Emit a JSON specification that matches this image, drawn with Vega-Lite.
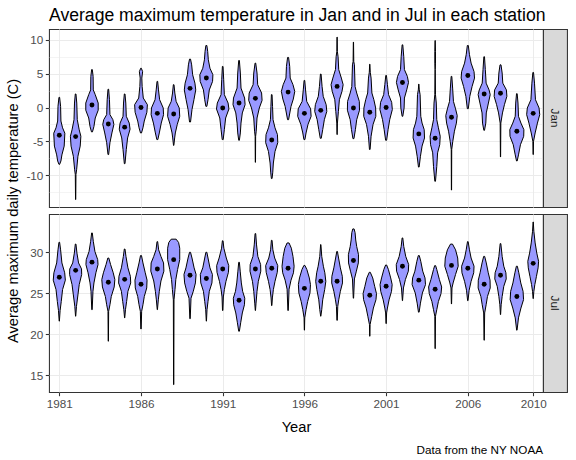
{
"$schema": "https://vega.github.io/schema/vega-lite/v6.json",
"padding": {"left": 5, "top": 6, "right": 7, "bottom": 5},
"background": "white",
"datasets": {
"v": [
{"m":"Jan","yr":1981,"t":1.5,"lo":1980.98,"hi":1981.02},{"m":"Jan","yr":1981,"t":0.17,"lo":1980.92,"hi":1981.08},{"m":"Jan","yr":1981,"t":-2.0,"lo":1980.9,"hi":1981.1},{"m":"Jan","yr":1981,"t":-3.0,"lo":1980.8,"hi":1981.2},{"m":"Jan","yr":1981,"t":-3.8,"lo":1980.66,"hi":1981.34},{"m":"Jan","yr":1981,"t":-5.7,"lo":1980.7,"hi":1981.3},{"m":"Jan","yr":1981,"t":-7.0,"lo":1980.84,"hi":1981.16},{"m":"Jan","yr":1981,"t":-7.9,"lo":1980.9,"hi":1981.1},{"m":"Jan","yr":1981,"t":-8.4,"lo":1980.98,"hi":1981.02},
{"m":"Jan","yr":1982,"t":2.0,"lo":1981.98,"hi":1982.02},{"m":"Jan","yr":1982,"t":0.66,"lo":1981.93,"hi":1982.07},{"m":"Jan","yr":1982,"t":-1.8,"lo":1981.9,"hi":1982.1},{"m":"Jan","yr":1982,"t":-3.3,"lo":1981.78,"hi":1982.22},{"m":"Jan","yr":1982,"t":-4.25,"lo":1981.68,"hi":1982.32},{"m":"Jan","yr":1982,"t":-5.7,"lo":1981.72,"hi":1982.28},{"m":"Jan","yr":1982,"t":-7.2,"lo":1981.86,"hi":1982.14},{"m":"Jan","yr":1982,"t":-9.2,"lo":1981.94,"hi":1982.06},{"m":"Jan","yr":1982,"t":-9.9,"lo":1981.98,"hi":1982.02},{"m":"Jan","yr":1982,"t":-13.6,"lo":1981.994,"hi":1982.006},
{"m":"Jan","yr":1983,"t":5.6,"lo":1982.98,"hi":1983.02},{"m":"Jan","yr":1983,"t":4.6,"lo":1982.93,"hi":1983.07},{"m":"Jan","yr":1983,"t":2.6,"lo":1982.92,"hi":1983.08},{"m":"Jan","yr":1983,"t":1.9,"lo":1982.8,"hi":1983.2},{"m":"Jan","yr":1983,"t":0.66,"lo":1982.62,"hi":1983.38},{"m":"Jan","yr":1983,"t":-0.4,"lo":1982.62,"hi":1983.38},{"m":"Jan","yr":1983,"t":-1.55,"lo":1982.8,"hi":1983.2},{"m":"Jan","yr":1983,"t":-2.8,"lo":1982.88,"hi":1983.12},{"m":"Jan","yr":1983,"t":-3.6,"lo":1982.97,"hi":1983.03},
{"m":"Jan","yr":1984,"t":2.7,"lo":1983.98,"hi":1984.02},{"m":"Jan","yr":1984,"t":1.15,"lo":1983.93,"hi":1984.07},{"m":"Jan","yr":1984,"t":-1.05,"lo":1983.9,"hi":1984.1},{"m":"Jan","yr":1984,"t":-1.8,"lo":1983.72,"hi":1984.28},{"m":"Jan","yr":1984,"t":-2.5,"lo":1983.66,"hi":1984.34},{"m":"Jan","yr":1984,"t":-3.76,"lo":1983.78,"hi":1984.22},{"m":"Jan","yr":1984,"t":-5.2,"lo":1983.9,"hi":1984.1},{"m":"Jan","yr":1984,"t":-6.95,"lo":1983.98,"hi":1984.02},
{"m":"Jan","yr":1985,"t":2.0,"lo":1984.98,"hi":1985.02},{"m":"Jan","yr":1985,"t":0.66,"lo":1984.93,"hi":1985.07},{"m":"Jan","yr":1985,"t":-1.3,"lo":1984.9,"hi":1985.1},{"m":"Jan","yr":1985,"t":-2.3,"lo":1984.72,"hi":1985.28},{"m":"Jan","yr":1985,"t":-3.2,"lo":1984.67,"hi":1985.33},{"m":"Jan","yr":1985,"t":-4.5,"lo":1984.82,"hi":1985.18},{"m":"Jan","yr":1985,"t":-6.2,"lo":1984.9,"hi":1985.1},{"m":"Jan","yr":1985,"t":-8.3,"lo":1984.98,"hi":1985.02},
{"m":"Jan","yr":1986,"t":5.8,"lo":1985.98,"hi":1986.02},{"m":"Jan","yr":1986,"t":5.3,"lo":1985.9,"hi":1986.1},{"m":"Jan","yr":1986,"t":4.35,"lo":1985.95,"hi":1986.05},{"m":"Jan","yr":1986,"t":3.1,"lo":1985.93,"hi":1986.07},{"m":"Jan","yr":1986,"t":1.4,"lo":1985.86,"hi":1986.14},{"m":"Jan","yr":1986,"t":0.42,"lo":1985.61,"hi":1986.39},{"m":"Jan","yr":1986,"t":-0.7,"lo":1985.64,"hi":1986.36},{"m":"Jan","yr":1986,"t":-2.0,"lo":1985.8,"hi":1986.2},{"m":"Jan","yr":1986,"t":-3.0,"lo":1985.88,"hi":1986.12},{"m":"Jan","yr":1986,"t":-3.76,"lo":1985.97,"hi":1986.03},
{"m":"Jan","yr":1987,"t":3.86,"lo":1986.98,"hi":1987.02},{"m":"Jan","yr":1987,"t":2.6,"lo":1986.93,"hi":1987.07},{"m":"Jan","yr":1987,"t":1.15,"lo":1986.86,"hi":1987.14},{"m":"Jan","yr":1987,"t":-0.07,"lo":1986.64,"hi":1987.36},{"m":"Jan","yr":1987,"t":-1.06,"lo":1986.62,"hi":1987.38},{"m":"Jan","yr":1987,"t":-2.3,"lo":1986.76,"hi":1987.24},{"m":"Jan","yr":1987,"t":-3.76,"lo":1986.88,"hi":1987.12},{"m":"Jan","yr":1987,"t":-4.74,"lo":1986.97,"hi":1987.03},
{"m":"Jan","yr":1988,"t":3.37,"lo":1987.98,"hi":1988.02},{"m":"Jan","yr":1988,"t":2.14,"lo":1987.93,"hi":1988.07},{"m":"Jan","yr":1988,"t":0.9,"lo":1987.85,"hi":1988.15},{"m":"Jan","yr":1988,"t":-0.07,"lo":1987.66,"hi":1988.34},{"m":"Jan","yr":1988,"t":-1.3,"lo":1987.63,"hi":1988.37},{"m":"Jan","yr":1988,"t":-2.5,"lo":1987.78,"hi":1988.22},{"m":"Jan","yr":1988,"t":-3.76,"lo":1987.9,"hi":1988.1},{"m":"Jan","yr":1988,"t":-4.5,"lo":1987.94,"hi":1988.06},{"m":"Jan","yr":1988,"t":-5.6,"lo":1987.99,"hi":1988.01},
{"m":"Jan","yr":1989,"t":7.15,"lo":1988.97,"hi":1989.03},{"m":"Jan","yr":1989,"t":6.3,"lo":1988.9,"hi":1989.1},{"m":"Jan","yr":1989,"t":4.84,"lo":1988.84,"hi":1989.16},{"m":"Jan","yr":1989,"t":3.6,"lo":1988.7,"hi":1989.3},{"m":"Jan","yr":1989,"t":2.6,"lo":1988.65,"hi":1989.35},{"m":"Jan","yr":1989,"t":1.15,"lo":1988.76,"hi":1989.24},{"m":"Jan","yr":1989,"t":-0.3,"lo":1988.88,"hi":1989.12},{"m":"Jan","yr":1989,"t":-2.14,"lo":1988.97,"hi":1989.03},
{"m":"Jan","yr":1990,"t":9.16,"lo":1989.97,"hi":1990.03},{"m":"Jan","yr":1990,"t":8.3,"lo":1989.92,"hi":1990.08},{"m":"Jan","yr":1990,"t":7.05,"lo":1989.88,"hi":1990.12},{"m":"Jan","yr":1990,"t":5.8,"lo":1989.78,"hi":1990.22},{"m":"Jan","yr":1990,"t":4.84,"lo":1989.6,"hi":1990.4},{"m":"Jan","yr":1990,"t":3.86,"lo":1989.62,"hi":1990.38},{"m":"Jan","yr":1990,"t":2.6,"lo":1989.82,"hi":1990.18},{"m":"Jan","yr":1990,"t":1.15,"lo":1989.9,"hi":1990.1},{"m":"Jan","yr":1990,"t":0.17,"lo":1989.97,"hi":1990.03},
{"m":"Jan","yr":1991,"t":6.07,"lo":1990.98,"hi":1991.02},{"m":"Jan","yr":1991,"t":4.1,"lo":1990.94,"hi":1991.06},{"m":"Jan","yr":1991,"t":1.9,"lo":1990.9,"hi":1991.1},{"m":"Jan","yr":1991,"t":0.66,"lo":1990.67,"hi":1991.33},{"m":"Jan","yr":1991,"t":-0.22,"lo":1990.62,"hi":1991.38},{"m":"Jan","yr":1991,"t":-1.55,"lo":1990.82,"hi":1991.18},{"m":"Jan","yr":1991,"t":-3.27,"lo":1990.9,"hi":1991.1},{"m":"Jan","yr":1991,"t":-4.74,"lo":1990.97,"hi":1991.03},
{"m":"Jan","yr":1992,"t":6.95,"lo":1991.98,"hi":1992.02},{"m":"Jan","yr":1992,"t":5.1,"lo":1991.92,"hi":1992.08},{"m":"Jan","yr":1992,"t":2.87,"lo":1991.88,"hi":1992.12},{"m":"Jan","yr":1992,"t":1.4,"lo":1991.66,"hi":1992.34},{"m":"Jan","yr":1992,"t":0.42,"lo":1991.63,"hi":1992.37},{"m":"Jan","yr":1992,"t":-0.8,"lo":1991.8,"hi":1992.2},{"m":"Jan","yr":1992,"t":-2.3,"lo":1991.88,"hi":1992.12},{"m":"Jan","yr":1992,"t":-3.76,"lo":1991.92,"hi":1992.08},{"m":"Jan","yr":1992,"t":-4.84,"lo":1991.98,"hi":1992.02},
{"m":"Jan","yr":1993,"t":6.56,"lo":1992.98,"hi":1993.02},{"m":"Jan","yr":1993,"t":5.1,"lo":1992.9,"hi":1993.1},{"m":"Jan","yr":1993,"t":3.37,"lo":1992.86,"hi":1993.14},{"m":"Jan","yr":1993,"t":2.14,"lo":1992.62,"hi":1993.38},{"m":"Jan","yr":1993,"t":1.06,"lo":1992.59,"hi":1993.41},{"m":"Jan","yr":1993,"t":-0.07,"lo":1992.76,"hi":1993.24},{"m":"Jan","yr":1993,"t":-1.55,"lo":1992.9,"hi":1993.1},{"m":"Jan","yr":1993,"t":-3.5,"lo":1992.95,"hi":1993.05},{"m":"Jan","yr":1993,"t":-4.25,"lo":1992.985,"hi":1993.015},{"m":"Jan","yr":1993,"t":-8.1,"lo":1992.994,"hi":1993.006},
{"m":"Jan","yr":1994,"t":1.9,"lo":1993.98,"hi":1994.02},{"m":"Jan","yr":1994,"t":0.17,"lo":1993.95,"hi":1994.05},{"m":"Jan","yr":1994,"t":-1.8,"lo":1993.92,"hi":1994.08},{"m":"Jan","yr":1994,"t":-3.0,"lo":1993.8,"hi":1994.2},{"m":"Jan","yr":1994,"t":-4.0,"lo":1993.65,"hi":1994.35},{"m":"Jan","yr":1994,"t":-5.2,"lo":1993.63,"hi":1994.37},{"m":"Jan","yr":1994,"t":-6.5,"lo":1993.8,"hi":1994.2},{"m":"Jan","yr":1994,"t":-8.2,"lo":1993.9,"hi":1994.1},{"m":"Jan","yr":1994,"t":-9.66,"lo":1993.94,"hi":1994.06},{"m":"Jan","yr":1994,"t":-10.5,"lo":1993.98,"hi":1994.02},
{"m":"Jan","yr":1995,"t":7.4,"lo":1994.97,"hi":1995.03},{"m":"Jan","yr":1995,"t":6.07,"lo":1994.9,"hi":1995.1},{"m":"Jan","yr":1995,"t":4.35,"lo":1994.87,"hi":1995.13},{"m":"Jan","yr":1995,"t":3.37,"lo":1994.7,"hi":1995.3},{"m":"Jan","yr":1995,"t":2.38,"lo":1994.59,"hi":1995.41},{"m":"Jan","yr":1995,"t":1.25,"lo":1994.68,"hi":1995.32},{"m":"Jan","yr":1995,"t":0.17,"lo":1994.82,"hi":1995.18},{"m":"Jan","yr":1995,"t":-1.8,"lo":1994.97,"hi":1995.03},
{"m":"Jan","yr":1996,"t":4.0,"lo":1995.98,"hi":1996.02},{"m":"Jan","yr":1996,"t":2.6,"lo":1995.93,"hi":1996.07},{"m":"Jan","yr":1996,"t":0.9,"lo":1995.86,"hi":1996.14},{"m":"Jan","yr":1996,"t":-0.2,"lo":1995.62,"hi":1996.38},{"m":"Jan","yr":1996,"t":-1.3,"lo":1995.59,"hi":1996.41},{"m":"Jan","yr":1996,"t":-2.5,"lo":1995.78,"hi":1996.22},{"m":"Jan","yr":1996,"t":-3.76,"lo":1995.9,"hi":1996.1},{"m":"Jan","yr":1996,"t":-4.74,"lo":1995.97,"hi":1996.03},
{"m":"Jan","yr":1997,"t":4.94,"lo":1996.98,"hi":1997.02},{"m":"Jan","yr":1997,"t":3.12,"lo":1996.92,"hi":1997.08},{"m":"Jan","yr":1997,"t":1.65,"lo":1996.85,"hi":1997.15},{"m":"Jan","yr":1997,"t":0.42,"lo":1996.67,"hi":1997.33},{"m":"Jan","yr":1997,"t":-0.57,"lo":1996.63,"hi":1997.37},{"m":"Jan","yr":1997,"t":-1.8,"lo":1996.78,"hi":1997.22},{"m":"Jan","yr":1997,"t":-3.27,"lo":1996.88,"hi":1997.12},{"m":"Jan","yr":1997,"t":-4.55,"lo":1996.97,"hi":1997.03},
{"m":"Jan","yr":1998,"t":10.4,"lo":1997.994,"hi":1998.006},{"m":"Jan","yr":1998,"t":8.28,"lo":1997.985,"hi":1998.015},{"m":"Jan","yr":1998,"t":7.5,"lo":1997.94,"hi":1998.06},{"m":"Jan","yr":1998,"t":5.6,"lo":1997.9,"hi":1998.1},{"m":"Jan","yr":1998,"t":4.35,"lo":1997.74,"hi":1998.26},{"m":"Jan","yr":1998,"t":3.37,"lo":1997.63,"hi":1998.37},{"m":"Jan","yr":1998,"t":2.4,"lo":1997.7,"hi":1998.3},{"m":"Jan","yr":1998,"t":1.15,"lo":1997.86,"hi":1998.14},{"m":"Jan","yr":1998,"t":-0.57,"lo":1997.92,"hi":1998.08},{"m":"Jan","yr":1998,"t":-2.3,"lo":1997.98,"hi":1998.02},{"m":"Jan","yr":1998,"t":-4.0,"lo":1997.994,"hi":1998.006},
{"m":"Jan","yr":1999,"t":9.66,"lo":1998.994,"hi":1999.006},{"m":"Jan","yr":1999,"t":6.8,"lo":1998.98,"hi":1999.02},{"m":"Jan","yr":1999,"t":6.3,"lo":1998.94,"hi":1999.06},{"m":"Jan","yr":1999,"t":3.1,"lo":1998.9,"hi":1999.1},{"m":"Jan","yr":1999,"t":2.14,"lo":1998.8,"hi":1999.2},{"m":"Jan","yr":1999,"t":0.9,"lo":1998.64,"hi":1999.36},{"m":"Jan","yr":1999,"t":-0.4,"lo":1998.63,"hi":1999.37},{"m":"Jan","yr":1999,"t":-1.8,"lo":1998.8,"hi":1999.2},{"m":"Jan","yr":1999,"t":-3.27,"lo":1998.88,"hi":1999.12},{"m":"Jan","yr":1999,"t":-4.6,"lo":1998.97,"hi":1999.03},
{"m":"Jan","yr":2000,"t":6.4,"lo":1999.994,"hi":2000.006},{"m":"Jan","yr":2000,"t":5.2,"lo":1999.97,"hi":2000.03},{"m":"Jan","yr":2000,"t":4.35,"lo":1999.92,"hi":2000.08},{"m":"Jan","yr":2000,"t":2.14,"lo":1999.87,"hi":2000.13},{"m":"Jan","yr":2000,"t":1.15,"lo":1999.75,"hi":2000.25},{"m":"Jan","yr":2000,"t":-0.07,"lo":1999.64,"hi":2000.36},{"m":"Jan","yr":2000,"t":-1.3,"lo":1999.63,"hi":2000.37},{"m":"Jan","yr":2000,"t":-2.5,"lo":1999.8,"hi":2000.2},{"m":"Jan","yr":2000,"t":-4.25,"lo":1999.92,"hi":2000.08},{"m":"Jan","yr":2000,"t":-6.2,"lo":1999.98,"hi":2000.02},
{"m":"Jan","yr":2001,"t":4.74,"lo":2000.98,"hi":2001.02},{"m":"Jan","yr":2001,"t":3.37,"lo":2000.92,"hi":2001.08},{"m":"Jan","yr":2001,"t":1.9,"lo":2000.85,"hi":2001.15},{"m":"Jan","yr":2001,"t":0.76,"lo":2000.66,"hi":2001.34},{"m":"Jan","yr":2001,"t":-0.3,"lo":2000.62,"hi":2001.38},{"m":"Jan","yr":2001,"t":-1.8,"lo":2000.78,"hi":2001.22},{"m":"Jan","yr":2001,"t":-3.27,"lo":2000.88,"hi":2001.12},{"m":"Jan","yr":2001,"t":-4.84,"lo":2000.97,"hi":2001.03},
{"m":"Jan","yr":2002,"t":9.26,"lo":2001.98,"hi":2002.02},{"m":"Jan","yr":2002,"t":7.5,"lo":2001.92,"hi":2002.08},{"m":"Jan","yr":2002,"t":5.6,"lo":2001.88,"hi":2002.12},{"m":"Jan","yr":2002,"t":4.6,"lo":2001.7,"hi":2002.3},{"m":"Jan","yr":2002,"t":3.7,"lo":2001.63,"hi":2002.37},{"m":"Jan","yr":2002,"t":2.6,"lo":2001.74,"hi":2002.26},{"m":"Jan","yr":2002,"t":1.4,"lo":2001.88,"hi":2002.12},{"m":"Jan","yr":2002,"t":-0.07,"lo":2001.9,"hi":2002.1},{"m":"Jan","yr":2002,"t":-1.3,"lo":2001.98,"hi":2002.02},
{"m":"Jan","yr":2003,"t":3.46,"lo":2002.994,"hi":2003.006},{"m":"Jan","yr":2003,"t":2.6,"lo":2002.97,"hi":2003.03},{"m":"Jan","yr":2003,"t":1.9,"lo":2002.92,"hi":2003.08},{"m":"Jan","yr":2003,"t":-1.3,"lo":2002.88,"hi":2003.12},{"m":"Jan","yr":2003,"t":-2.3,"lo":2002.8,"hi":2003.2},{"m":"Jan","yr":2003,"t":-3.27,"lo":2002.67,"hi":2003.33},{"m":"Jan","yr":2003,"t":-4.5,"lo":2002.65,"hi":2003.35},{"m":"Jan","yr":2003,"t":-5.7,"lo":2002.8,"hi":2003.2},{"m":"Jan","yr":2003,"t":-7.2,"lo":2002.9,"hi":2003.1},{"m":"Jan","yr":2003,"t":-8.8,"lo":2002.98,"hi":2003.02},
{"m":"Jan","yr":2004,"t":9.9,"lo":2003.994,"hi":2004.006},{"m":"Jan","yr":2004,"t":8.3,"lo":2003.98,"hi":2004.02},{"m":"Jan","yr":2004,"t":6.56,"lo":2003.98,"hi":2004.02},{"m":"Jan","yr":2004,"t":5.6,"lo":2003.994,"hi":2004.006},{"m":"Jan","yr":2004,"t":1.9,"lo":2003.98,"hi":2004.02},{"m":"Jan","yr":2004,"t":0.66,"lo":2003.93,"hi":2004.07},{"m":"Jan","yr":2004,"t":-1.8,"lo":2003.9,"hi":2004.1},{"m":"Jan","yr":2004,"t":-3.0,"lo":2003.8,"hi":2004.2},{"m":"Jan","yr":2004,"t":-4.25,"lo":2003.69,"hi":2004.31},{"m":"Jan","yr":2004,"t":-5.5,"lo":2003.72,"hi":2004.28},{"m":"Jan","yr":2004,"t":-6.7,"lo":2003.85,"hi":2004.15},{"m":"Jan","yr":2004,"t":-8.7,"lo":2003.9,"hi":2004.1},{"m":"Jan","yr":2004,"t":-10.9,"lo":2003.98,"hi":2004.02},
{"m":"Jan","yr":2005,"t":4.6,"lo":2004.98,"hi":2005.02},{"m":"Jan","yr":2005,"t":2.87,"lo":2004.93,"hi":2005.07},{"m":"Jan","yr":2005,"t":0.9,"lo":2004.88,"hi":2005.12},{"m":"Jan","yr":2005,"t":-0.2,"lo":2004.75,"hi":2005.25},{"m":"Jan","yr":2005,"t":-1.2,"lo":2004.65,"hi":2005.35},{"m":"Jan","yr":2005,"t":-2.3,"lo":2004.7,"hi":2005.3},{"m":"Jan","yr":2005,"t":-3.5,"lo":2004.82,"hi":2005.18},{"m":"Jan","yr":2005,"t":-5.0,"lo":2004.92,"hi":2005.08},{"m":"Jan","yr":2005,"t":-6.2,"lo":2004.985,"hi":2005.015},{"m":"Jan","yr":2005,"t":-12.2,"lo":2004.994,"hi":2005.006},
{"m":"Jan","yr":2006,"t":9.16,"lo":2005.97,"hi":2006.03},{"m":"Jan","yr":2006,"t":7.8,"lo":2005.9,"hi":2006.1},{"m":"Jan","yr":2006,"t":6.56,"lo":2005.8,"hi":2006.2},{"m":"Jan","yr":2006,"t":5.3,"lo":2005.62,"hi":2006.38},{"m":"Jan","yr":2006,"t":4.35,"lo":2005.59,"hi":2006.41},{"m":"Jan","yr":2006,"t":3.1,"lo":2005.74,"hi":2006.26},{"m":"Jan","yr":2006,"t":1.65,"lo":2005.88,"hi":2006.12},{"m":"Jan","yr":2006,"t":-0.17,"lo":2005.97,"hi":2006.03},
{"m":"Jan","yr":2007,"t":7.5,"lo":2006.98,"hi":2007.02},{"m":"Jan","yr":2007,"t":5.6,"lo":2006.93,"hi":2007.07},{"m":"Jan","yr":2007,"t":3.6,"lo":2006.88,"hi":2007.12},{"m":"Jan","yr":2007,"t":2.6,"lo":2006.7,"hi":2007.3},{"m":"Jan","yr":2007,"t":1.9,"lo":2006.63,"hi":2007.37},{"m":"Jan","yr":2007,"t":0.66,"lo":2006.74,"hi":2007.26},{"m":"Jan","yr":2007,"t":-0.8,"lo":2006.87,"hi":2007.13},{"m":"Jan","yr":2007,"t":-2.3,"lo":2006.9,"hi":2007.1},{"m":"Jan","yr":2007,"t":-3.37,"lo":2006.98,"hi":2007.02},
{"m":"Jan","yr":2008,"t":6.3,"lo":2007.97,"hi":2008.03},{"m":"Jan","yr":2008,"t":5.1,"lo":2007.9,"hi":2008.1},{"m":"Jan","yr":2008,"t":3.6,"lo":2007.86,"hi":2008.14},{"m":"Jan","yr":2008,"t":2.6,"lo":2007.64,"hi":2008.36},{"m":"Jan","yr":2008,"t":1.65,"lo":2007.61,"hi":2008.39},{"m":"Jan","yr":2008,"t":0.42,"lo":2007.76,"hi":2008.24},{"m":"Jan","yr":2008,"t":-0.8,"lo":2007.88,"hi":2008.12},{"m":"Jan","yr":2008,"t":-2.3,"lo":2007.98,"hi":2008.02},{"m":"Jan","yr":2008,"t":-7.3,"lo":2007.994,"hi":2008.006},
{"m":"Jan","yr":2009,"t":2.04,"lo":2008.98,"hi":2009.02},{"m":"Jan","yr":2009,"t":0.66,"lo":2008.93,"hi":2009.07},{"m":"Jan","yr":2009,"t":-1.3,"lo":2008.9,"hi":2009.1},{"m":"Jan","yr":2009,"t":-2.3,"lo":2008.75,"hi":2009.25},{"m":"Jan","yr":2009,"t":-3.27,"lo":2008.57,"hi":2009.43},{"m":"Jan","yr":2009,"t":-4.25,"lo":2008.58,"hi":2009.42},{"m":"Jan","yr":2009,"t":-5.5,"lo":2008.78,"hi":2009.22},{"m":"Jan","yr":2009,"t":-7.0,"lo":2008.9,"hi":2009.1},{"m":"Jan","yr":2009,"t":-7.9,"lo":2008.98,"hi":2009.02},
{"m":"Jan","yr":2010,"t":5.18,"lo":2009.98,"hi":2010.02},{"m":"Jan","yr":2010,"t":3.6,"lo":2009.92,"hi":2010.08},{"m":"Jan","yr":2010,"t":1.15,"lo":2009.86,"hi":2010.14},{"m":"Jan","yr":2010,"t":-0.07,"lo":2009.64,"hi":2010.36},{"m":"Jan","yr":2010,"t":-1.06,"lo":2009.6,"hi":2010.4},{"m":"Jan","yr":2010,"t":-2.3,"lo":2009.74,"hi":2010.26},{"m":"Jan","yr":2010,"t":-3.76,"lo":2009.88,"hi":2010.12},{"m":"Jan","yr":2010,"t":-5.0,"lo":2009.98,"hi":2010.02},{"m":"Jan","yr":2010,"t":-6.95,"lo":2009.994,"hi":2010.006},
{"m":"Jul","yr":1981,"t":31.22,"lo":1980.98,"hi":1981.02},{"m":"Jul","yr":1981,"t":30.3,"lo":1980.92,"hi":1981.08},{"m":"Jul","yr":1981,"t":28.7,"lo":1980.84,"hi":1981.16},{"m":"Jul","yr":1981,"t":27.5,"lo":1980.67,"hi":1981.33},{"m":"Jul","yr":1981,"t":26.6,"lo":1980.63,"hi":1981.37},{"m":"Jul","yr":1981,"t":25.45,"lo":1980.8,"hi":1981.2},{"m":"Jul","yr":1981,"t":24.0,"lo":1980.88,"hi":1981.12},{"m":"Jul","yr":1981,"t":22.9,"lo":1980.95,"hi":1981.05},{"m":"Jul","yr":1981,"t":21.6,"lo":1980.994,"hi":1981.006},
{"m":"Jul","yr":1982,"t":31.0,"lo":1981.98,"hi":1982.02},{"m":"Jul","yr":1982,"t":29.9,"lo":1981.92,"hi":1982.08},{"m":"Jul","yr":1982,"t":28.7,"lo":1981.82,"hi":1982.18},{"m":"Jul","yr":1982,"t":27.97,"lo":1981.64,"hi":1982.36},{"m":"Jul","yr":1982,"t":27.3,"lo":1981.63,"hi":1982.37},{"m":"Jul","yr":1982,"t":26.06,"lo":1981.78,"hi":1982.22},{"m":"Jul","yr":1982,"t":24.8,"lo":1981.86,"hi":1982.14},{"m":"Jul","yr":1982,"t":23.4,"lo":1981.95,"hi":1982.05},{"m":"Jul","yr":1982,"t":22.2,"lo":1981.994,"hi":1982.006},
{"m":"Jul","yr":1983,"t":32.36,"lo":1982.98,"hi":1983.02},{"m":"Jul","yr":1983,"t":31.34,"lo":1982.92,"hi":1983.08},{"m":"Jul","yr":1983,"t":30.1,"lo":1982.82,"hi":1983.18},{"m":"Jul","yr":1983,"t":29.1,"lo":1982.65,"hi":1983.35},{"m":"Jul","yr":1983,"t":28.5,"lo":1982.63,"hi":1983.37},{"m":"Jul","yr":1983,"t":27.5,"lo":1982.76,"hi":1983.24},{"m":"Jul","yr":1983,"t":26.26,"lo":1982.88,"hi":1983.12},{"m":"Jul","yr":1983,"t":25.24,"lo":1982.94,"hi":1983.06},{"m":"Jul","yr":1983,"t":23.0,"lo":1982.988,"hi":1983.012},
{"m":"Jul","yr":1984,"t":29.3,"lo":1983.97,"hi":1984.03},{"m":"Jul","yr":1984,"t":28.5,"lo":1983.86,"hi":1984.14},{"m":"Jul","yr":1984,"t":27.5,"lo":1983.7,"hi":1984.3},{"m":"Jul","yr":1984,"t":26.67,"lo":1983.6,"hi":1984.4},{"m":"Jul","yr":1984,"t":25.77,"lo":1983.64,"hi":1984.36},{"m":"Jul","yr":1984,"t":24.6,"lo":1983.82,"hi":1984.18},{"m":"Jul","yr":1984,"t":23.6,"lo":1983.9,"hi":1984.1},{"m":"Jul","yr":1984,"t":22.8,"lo":1983.98,"hi":1984.02},{"m":"Jul","yr":1984,"t":19.15,"lo":1983.994,"hi":1984.006},
{"m":"Jul","yr":1985,"t":30.4,"lo":1984.98,"hi":1985.02},{"m":"Jul","yr":1985,"t":29.5,"lo":1984.92,"hi":1985.08},{"m":"Jul","yr":1985,"t":28.1,"lo":1984.8,"hi":1985.2},{"m":"Jul","yr":1985,"t":27.07,"lo":1984.65,"hi":1985.35},{"m":"Jul","yr":1985,"t":26.26,"lo":1984.63,"hi":1985.37},{"m":"Jul","yr":1985,"t":25.24,"lo":1984.8,"hi":1985.2},{"m":"Jul","yr":1985,"t":24.0,"lo":1984.88,"hi":1985.12},{"m":"Jul","yr":1985,"t":23.0,"lo":1984.95,"hi":1985.05},{"m":"Jul","yr":1985,"t":22.0,"lo":1984.994,"hi":1985.006},
{"m":"Jul","yr":1986,"t":29.6,"lo":1985.97,"hi":1986.03},{"m":"Jul","yr":1986,"t":28.7,"lo":1985.88,"hi":1986.12},{"m":"Jul","yr":1986,"t":27.5,"lo":1985.74,"hi":1986.26},{"m":"Jul","yr":1986,"t":26.6,"lo":1985.63,"hi":1986.37},{"m":"Jul","yr":1986,"t":25.65,"lo":1985.65,"hi":1986.35},{"m":"Jul","yr":1986,"t":24.6,"lo":1985.8,"hi":1986.2},{"m":"Jul","yr":1986,"t":23.6,"lo":1985.88,"hi":1986.12},{"m":"Jul","yr":1986,"t":22.8,"lo":1985.96,"hi":1986.04},{"m":"Jul","yr":1986,"t":20.65,"lo":1985.988,"hi":1986.012},
{"m":"Jul","yr":1987,"t":31.3,"lo":1986.98,"hi":1987.02},{"m":"Jul","yr":1987,"t":30.3,"lo":1986.92,"hi":1987.08},{"m":"Jul","yr":1987,"t":29.5,"lo":1986.78,"hi":1987.22},{"m":"Jul","yr":1987,"t":28.7,"lo":1986.62,"hi":1987.38},{"m":"Jul","yr":1987,"t":27.7,"lo":1986.6,"hi":1987.4},{"m":"Jul","yr":1987,"t":26.5,"lo":1986.78,"hi":1987.22},{"m":"Jul","yr":1987,"t":25.24,"lo":1986.88,"hi":1987.12},{"m":"Jul","yr":1987,"t":24.2,"lo":1986.94,"hi":1987.06},{"m":"Jul","yr":1987,"t":23.0,"lo":1986.994,"hi":1987.006},
{"m":"Jul","yr":1988,"t":31.6,"lo":1987.85,"hi":1988.15},{"m":"Jul","yr":1988,"t":31.2,"lo":1987.7,"hi":1988.3},{"m":"Jul","yr":1988,"t":30.5,"lo":1987.63,"hi":1988.37},{"m":"Jul","yr":1988,"t":29.1,"lo":1987.63,"hi":1988.37},{"m":"Jul","yr":1988,"t":27.9,"lo":1987.76,"hi":1988.24},{"m":"Jul","yr":1988,"t":26.67,"lo":1987.87,"hi":1988.13},{"m":"Jul","yr":1988,"t":25.45,"lo":1987.92,"hi":1988.08},{"m":"Jul","yr":1988,"t":24.2,"lo":1987.98,"hi":1988.02},{"m":"Jul","yr":1988,"t":13.86,"lo":1987.994,"hi":1988.006},
{"m":"Jul","yr":1989,"t":30.0,"lo":1988.97,"hi":1989.03},{"m":"Jul","yr":1989,"t":29.3,"lo":1988.88,"hi":1989.12},{"m":"Jul","yr":1989,"t":28.1,"lo":1988.75,"hi":1989.25},{"m":"Jul","yr":1989,"t":27.3,"lo":1988.63,"hi":1989.37},{"m":"Jul","yr":1989,"t":26.26,"lo":1988.67,"hi":1989.33},{"m":"Jul","yr":1989,"t":25.24,"lo":1988.8,"hi":1989.2},{"m":"Jul","yr":1989,"t":24.4,"lo":1988.94,"hi":1989.06},{"m":"Jul","yr":1989,"t":21.9,"lo":1988.988,"hi":1989.012},
{"m":"Jul","yr":1990,"t":30.0,"lo":1989.97,"hi":1990.03},{"m":"Jul","yr":1990,"t":29.3,"lo":1989.9,"hi":1990.1},{"m":"Jul","yr":1990,"t":28.1,"lo":1989.78,"hi":1990.22},{"m":"Jul","yr":1990,"t":27.3,"lo":1989.63,"hi":1990.37},{"m":"Jul","yr":1990,"t":26.26,"lo":1989.66,"hi":1990.34},{"m":"Jul","yr":1990,"t":25.24,"lo":1989.82,"hi":1990.18},{"m":"Jul","yr":1990,"t":24.0,"lo":1989.9,"hi":1990.1},{"m":"Jul","yr":1990,"t":23.0,"lo":1989.96,"hi":1990.04},{"m":"Jul","yr":1990,"t":21.6,"lo":1989.994,"hi":1990.006},
{"m":"Jul","yr":1991,"t":31.4,"lo":1990.98,"hi":1991.02},{"m":"Jul","yr":1991,"t":30.5,"lo":1990.93,"hi":1991.07},{"m":"Jul","yr":1991,"t":29.3,"lo":1990.78,"hi":1991.22},{"m":"Jul","yr":1991,"t":28.37,"lo":1990.63,"hi":1991.37},{"m":"Jul","yr":1991,"t":27.56,"lo":1990.65,"hi":1991.35},{"m":"Jul","yr":1991,"t":26.46,"lo":1990.8,"hi":1991.2},{"m":"Jul","yr":1991,"t":25.45,"lo":1990.9,"hi":1991.1},{"m":"Jul","yr":1991,"t":24.55,"lo":1990.96,"hi":1991.04},{"m":"Jul","yr":1991,"t":22.9,"lo":1990.988,"hi":1991.012},
{"m":"Jul","yr":1992,"t":28.78,"lo":1991.98,"hi":1992.02},{"m":"Jul","yr":1992,"t":27.7,"lo":1991.93,"hi":1992.07},{"m":"Jul","yr":1992,"t":26.26,"lo":1991.86,"hi":1992.14},{"m":"Jul","yr":1992,"t":25.24,"lo":1991.78,"hi":1992.22},{"m":"Jul","yr":1992,"t":24.4,"lo":1991.65,"hi":1992.35},{"m":"Jul","yr":1992,"t":23.6,"lo":1991.67,"hi":1992.33},{"m":"Jul","yr":1992,"t":22.6,"lo":1991.8,"hi":1992.2},{"m":"Jul","yr":1992,"t":21.4,"lo":1991.9,"hi":1992.1},{"m":"Jul","yr":1992,"t":20.37,"lo":1991.98,"hi":1992.02},
{"m":"Jul","yr":1993,"t":32.28,"lo":1992.98,"hi":1993.02},{"m":"Jul","yr":1993,"t":30.9,"lo":1992.93,"hi":1993.07},{"m":"Jul","yr":1993,"t":29.5,"lo":1992.85,"hi":1993.15},{"m":"Jul","yr":1993,"t":28.5,"lo":1992.68,"hi":1993.32},{"m":"Jul","yr":1993,"t":27.7,"lo":1992.67,"hi":1993.33},{"m":"Jul","yr":1993,"t":26.46,"lo":1992.82,"hi":1993.18},{"m":"Jul","yr":1993,"t":25.24,"lo":1992.9,"hi":1993.1},{"m":"Jul","yr":1993,"t":23.8,"lo":1992.96,"hi":1993.04},{"m":"Jul","yr":1993,"t":22.9,"lo":1992.994,"hi":1993.006},
{"m":"Jul","yr":1994,"t":31.46,"lo":1993.98,"hi":1994.02},{"m":"Jul","yr":1994,"t":30.3,"lo":1993.93,"hi":1994.07},{"m":"Jul","yr":1994,"t":29.3,"lo":1993.82,"hi":1994.18},{"m":"Jul","yr":1994,"t":28.37,"lo":1993.63,"hi":1994.37},{"m":"Jul","yr":1994,"t":27.56,"lo":1993.66,"hi":1994.34},{"m":"Jul","yr":1994,"t":26.46,"lo":1993.8,"hi":1994.2},{"m":"Jul","yr":1994,"t":25.45,"lo":1993.9,"hi":1994.1},{"m":"Jul","yr":1994,"t":24.43,"lo":1993.96,"hi":1994.04},{"m":"Jul","yr":1994,"t":23.5,"lo":1993.99,"hi":1994.01},
{"m":"Jul","yr":1995,"t":31.14,"lo":1994.94,"hi":1995.06},{"m":"Jul","yr":1995,"t":30.5,"lo":1994.8,"hi":1995.2},{"m":"Jul","yr":1995,"t":29.5,"lo":1994.7,"hi":1995.3},{"m":"Jul","yr":1995,"t":28.3,"lo":1994.63,"hi":1995.37},{"m":"Jul","yr":1995,"t":27.5,"lo":1994.67,"hi":1995.33},{"m":"Jul","yr":1995,"t":26.6,"lo":1994.82,"hi":1995.18},{"m":"Jul","yr":1995,"t":25.5,"lo":1994.94,"hi":1995.06},{"m":"Jul","yr":1995,"t":22.9,"lo":1994.988,"hi":1995.012},
{"m":"Jul","yr":1996,"t":28.4,"lo":1995.97,"hi":1996.03},{"m":"Jul","yr":1996,"t":27.9,"lo":1995.85,"hi":1996.15},{"m":"Jul","yr":1996,"t":26.87,"lo":1995.7,"hi":1996.3},{"m":"Jul","yr":1996,"t":26.06,"lo":1995.63,"hi":1996.37},{"m":"Jul","yr":1996,"t":25.04,"lo":1995.66,"hi":1996.34},{"m":"Jul","yr":1996,"t":24.0,"lo":1995.8,"hi":1996.2},{"m":"Jul","yr":1996,"t":23.0,"lo":1995.9,"hi":1996.1},{"m":"Jul","yr":1996,"t":22.0,"lo":1995.98,"hi":1996.02},{"m":"Jul","yr":1996,"t":20.5,"lo":1995.994,"hi":1996.006},
{"m":"Jul","yr":1997,"t":30.94,"lo":1996.99,"hi":1997.01},{"m":"Jul","yr":1997,"t":29.5,"lo":1996.94,"hi":1997.06},{"m":"Jul","yr":1997,"t":28.3,"lo":1996.84,"hi":1997.16},{"m":"Jul","yr":1997,"t":27.5,"lo":1996.75,"hi":1997.25},{"m":"Jul","yr":1997,"t":26.46,"lo":1996.69,"hi":1997.31},{"m":"Jul","yr":1997,"t":25.45,"lo":1996.76,"hi":1997.24},{"m":"Jul","yr":1997,"t":24.2,"lo":1996.88,"hi":1997.12},{"m":"Jul","yr":1997,"t":23.0,"lo":1996.94,"hi":1997.06},{"m":"Jul","yr":1997,"t":22.2,"lo":1996.994,"hi":1997.006},
{"m":"Jul","yr":1998,"t":30.1,"lo":1997.98,"hi":1998.02},{"m":"Jul","yr":1998,"t":29.3,"lo":1997.91,"hi":1998.09},{"m":"Jul","yr":1998,"t":28.1,"lo":1997.8,"hi":1998.2},{"m":"Jul","yr":1998,"t":27.07,"lo":1997.68,"hi":1998.32},{"m":"Jul","yr":1998,"t":26.26,"lo":1997.67,"hi":1998.33},{"m":"Jul","yr":1998,"t":25.24,"lo":1997.8,"hi":1998.2},{"m":"Jul","yr":1998,"t":24.2,"lo":1997.9,"hi":1998.1},{"m":"Jul","yr":1998,"t":23.4,"lo":1997.96,"hi":1998.04},{"m":"Jul","yr":1998,"t":21.7,"lo":1997.988,"hi":1998.012},
{"m":"Jul","yr":1999,"t":32.85,"lo":1998.96,"hi":1999.04},{"m":"Jul","yr":1999,"t":32.4,"lo":1998.9,"hi":1999.1},{"m":"Jul","yr":1999,"t":31.5,"lo":1998.86,"hi":1999.14},{"m":"Jul","yr":1999,"t":30.7,"lo":1998.8,"hi":1999.2},{"m":"Jul","yr":1999,"t":29.7,"lo":1998.69,"hi":1999.31},{"m":"Jul","yr":1999,"t":28.7,"lo":1998.7,"hi":1999.3},{"m":"Jul","yr":1999,"t":27.7,"lo":1998.82,"hi":1999.18},{"m":"Jul","yr":1999,"t":26.75,"lo":1998.94,"hi":1999.06},{"m":"Jul","yr":1999,"t":24.4,"lo":1998.99,"hi":1999.01},
{"m":"Jul","yr":2000,"t":27.56,"lo":1999.97,"hi":2000.03},{"m":"Jul","yr":2000,"t":26.87,"lo":1999.82,"hi":2000.18},{"m":"Jul","yr":2000,"t":25.85,"lo":1999.7,"hi":2000.3},{"m":"Jul","yr":2000,"t":24.96,"lo":1999.59,"hi":2000.41},{"m":"Jul","yr":2000,"t":24.23,"lo":1999.62,"hi":2000.38},{"m":"Jul","yr":2000,"t":23.2,"lo":1999.78,"hi":2000.22},{"m":"Jul","yr":2000,"t":22.2,"lo":1999.88,"hi":2000.12},{"m":"Jul","yr":2000,"t":21.18,"lo":1999.98,"hi":2000.02},{"m":"Jul","yr":2000,"t":19.76,"lo":1999.994,"hi":2000.006},
{"m":"Jul","yr":2001,"t":28.45,"lo":2000.97,"hi":2001.03},{"m":"Jul","yr":2001,"t":27.9,"lo":2000.86,"hi":2001.14},{"m":"Jul","yr":2001,"t":26.87,"lo":2000.72,"hi":2001.28},{"m":"Jul","yr":2001,"t":26.06,"lo":2000.63,"hi":2001.37},{"m":"Jul","yr":2001,"t":25.24,"lo":2000.67,"hi":2001.33},{"m":"Jul","yr":2001,"t":24.2,"lo":2000.82,"hi":2001.18},{"m":"Jul","yr":2001,"t":23.2,"lo":2000.92,"hi":2001.08},{"m":"Jul","yr":2001,"t":22.6,"lo":2000.97,"hi":2001.03},{"m":"Jul","yr":2001,"t":21.3,"lo":2000.994,"hi":2001.006},
{"m":"Jul","yr":2002,"t":31.75,"lo":2001.98,"hi":2002.02},{"m":"Jul","yr":2002,"t":30.7,"lo":2001.92,"hi":2002.08},{"m":"Jul","yr":2002,"t":29.5,"lo":2001.8,"hi":2002.2},{"m":"Jul","yr":2002,"t":28.5,"lo":2001.62,"hi":2002.38},{"m":"Jul","yr":2002,"t":27.7,"lo":2001.64,"hi":2002.36},{"m":"Jul","yr":2002,"t":26.67,"lo":2001.82,"hi":2002.18},{"m":"Jul","yr":2002,"t":25.65,"lo":2001.94,"hi":2002.06},{"m":"Jul","yr":2002,"t":24.1,"lo":2001.994,"hi":2002.006},
{"m":"Jul","yr":2003,"t":29.6,"lo":2002.97,"hi":2003.03},{"m":"Jul","yr":2003,"t":28.9,"lo":2002.88,"hi":2003.12},{"m":"Jul","yr":2003,"t":27.7,"lo":2002.76,"hi":2003.24},{"m":"Jul","yr":2003,"t":26.87,"lo":2002.62,"hi":2003.38},{"m":"Jul","yr":2003,"t":26.06,"lo":2002.59,"hi":2003.41},{"m":"Jul","yr":2003,"t":25.04,"lo":2002.78,"hi":2003.22},{"m":"Jul","yr":2003,"t":23.8,"lo":2002.9,"hi":2003.1},{"m":"Jul","yr":2003,"t":22.7,"lo":2002.98,"hi":2003.02},
{"m":"Jul","yr":2004,"t":28.37,"lo":2003.97,"hi":2004.03},{"m":"Jul","yr":2004,"t":27.9,"lo":2003.9,"hi":2004.1},{"m":"Jul","yr":2004,"t":26.67,"lo":2003.74,"hi":2004.26},{"m":"Jul","yr":2004,"t":25.77,"lo":2003.6,"hi":2004.4},{"m":"Jul","yr":2004,"t":24.96,"lo":2003.64,"hi":2004.36},{"m":"Jul","yr":2004,"t":24.0,"lo":2003.8,"hi":2004.2},{"m":"Jul","yr":2004,"t":23.0,"lo":2003.9,"hi":2004.1},{"m":"Jul","yr":2004,"t":22.2,"lo":2003.98,"hi":2004.02},{"m":"Jul","yr":2004,"t":18.25,"lo":2003.994,"hi":2004.006},
{"m":"Jul","yr":2005,"t":31.0,"lo":2004.94,"hi":2005.06},{"m":"Jul","yr":2005,"t":30.3,"lo":2004.75,"hi":2005.25},{"m":"Jul","yr":2005,"t":29.3,"lo":2004.62,"hi":2005.38},{"m":"Jul","yr":2005,"t":28.3,"lo":2004.59,"hi":2005.41},{"m":"Jul","yr":2005,"t":27.3,"lo":2004.75,"hi":2005.25},{"m":"Jul","yr":2005,"t":26.26,"lo":2004.9,"hi":2005.1},{"m":"Jul","yr":2005,"t":25.65,"lo":2004.97,"hi":2005.03},{"m":"Jul","yr":2005,"t":23.7,"lo":2004.994,"hi":2005.006},
{"m":"Jul","yr":2006,"t":31.3,"lo":2005.98,"hi":2006.02},{"m":"Jul","yr":2006,"t":30.3,"lo":2005.9,"hi":2006.1},{"m":"Jul","yr":2006,"t":29.3,"lo":2005.8,"hi":2006.2},{"m":"Jul","yr":2006,"t":28.3,"lo":2005.62,"hi":2006.38},{"m":"Jul","yr":2006,"t":27.5,"lo":2005.64,"hi":2006.36},{"m":"Jul","yr":2006,"t":26.46,"lo":2005.8,"hi":2006.2},{"m":"Jul","yr":2006,"t":25.37,"lo":2005.92,"hi":2006.08},{"m":"Jul","yr":2006,"t":24.1,"lo":2005.988,"hi":2006.012},
{"m":"Jul","yr":2007,"t":29.5,"lo":2006.97,"hi":2007.03},{"m":"Jul","yr":2007,"t":28.7,"lo":2006.87,"hi":2007.13},{"m":"Jul","yr":2007,"t":27.5,"lo":2006.75,"hi":2007.25},{"m":"Jul","yr":2007,"t":26.6,"lo":2006.64,"hi":2007.36},{"m":"Jul","yr":2007,"t":25.65,"lo":2006.63,"hi":2007.37},{"m":"Jul","yr":2007,"t":24.6,"lo":2006.8,"hi":2007.2},{"m":"Jul","yr":2007,"t":23.6,"lo":2006.88,"hi":2007.12},{"m":"Jul","yr":2007,"t":22.6,"lo":2006.97,"hi":2007.03},{"m":"Jul","yr":2007,"t":19.27,"lo":2006.994,"hi":2007.006},
{"m":"Jul","yr":2008,"t":31.06,"lo":2007.98,"hi":2008.02},{"m":"Jul","yr":2008,"t":29.5,"lo":2007.9,"hi":2008.1},{"m":"Jul","yr":2008,"t":28.3,"lo":2007.8,"hi":2008.2},{"m":"Jul","yr":2008,"t":27.5,"lo":2007.67,"hi":2008.33},{"m":"Jul","yr":2008,"t":26.75,"lo":2007.65,"hi":2008.35},{"m":"Jul","yr":2008,"t":25.85,"lo":2007.8,"hi":2008.2},{"m":"Jul","yr":2008,"t":24.6,"lo":2007.9,"hi":2008.1},{"m":"Jul","yr":2008,"t":23.6,"lo":2007.96,"hi":2008.04},{"m":"Jul","yr":2008,"t":22.4,"lo":2007.994,"hi":2008.006},
{"m":"Jul","yr":2009,"t":28.3,"lo":2008.97,"hi":2009.03},{"m":"Jul","yr":2009,"t":27.5,"lo":2008.88,"hi":2009.12},{"m":"Jul","yr":2009,"t":26.26,"lo":2008.76,"hi":2009.24},{"m":"Jul","yr":2009,"t":25.24,"lo":2008.62,"hi":2009.38},{"m":"Jul","yr":2009,"t":24.23,"lo":2008.59,"hi":2009.41},{"m":"Jul","yr":2009,"t":23.2,"lo":2008.75,"hi":2009.25},{"m":"Jul","yr":2009,"t":22.0,"lo":2008.9,"hi":2009.1},{"m":"Jul","yr":2009,"t":20.5,"lo":2008.988,"hi":2009.012},
{"m":"Jul","yr":2010,"t":33.7,"lo":2009.994,"hi":2010.006},{"m":"Jul","yr":2010,"t":32.56,"lo":2009.96,"hi":2010.04},{"m":"Jul","yr":2010,"t":31.14,"lo":2009.88,"hi":2010.12},{"m":"Jul","yr":2010,"t":29.9,"lo":2009.78,"hi":2010.22},{"m":"Jul","yr":2010,"t":28.9,"lo":2009.67,"hi":2010.33},{"m":"Jul","yr":2010,"t":28.1,"lo":2009.7,"hi":2010.3},{"m":"Jul","yr":2010,"t":27.07,"lo":2009.8,"hi":2010.2},{"m":"Jul","yr":2010,"t":26.06,"lo":2009.9,"hi":2010.1},{"m":"Jul","yr":2010,"t":25.24,"lo":2009.96,"hi":2010.04},{"m":"Jul","yr":2010,"t":24.35,"lo":2009.994,"hi":2010.006}
],
"p": [
{"m":"Jan","yr":1981,"t":-4.1},{"m":"Jan","yr":1982,"t":-4.3},{"m":"Jan","yr":1983,"t":0.37},{"m":"Jan","yr":1984,"t":-2.43},{"m":"Jan","yr":1985,"t":-2.9},{"m":"Jan","yr":1986,"t":0.0},{"m":"Jan","yr":1987,"t":-0.86},{"m":"Jan","yr":1988,"t":-0.96},{"m":"Jan","yr":1989,"t":2.83},{"m":"Jan","yr":1990,"t":4.35},{"m":"Jan","yr":1991,"t":-0.07},{"m":"Jan","yr":1992,"t":0.66},{"m":"Jan","yr":1993,"t":1.35},{"m":"Jan","yr":1994,"t":-4.8},{"m":"Jan","yr":1995,"t":2.28},{"m":"Jan","yr":1996,"t":-0.86},{"m":"Jan","yr":1997,"t":-0.42},{"m":"Jan","yr":1998,"t":3.12},{"m":"Jan","yr":1999,"t":-0.07},{"m":"Jan","yr":2000,"t":-0.7},{"m":"Jan","yr":2001,"t":0.0},{"m":"Jan","yr":2002,"t":3.7},{"m":"Jan","yr":2003,"t":-3.9},{"m":"Jan","yr":2004,"t":-4.55},{"m":"Jan","yr":2005,"t":-1.45},{"m":"Jan","yr":2006,"t":4.74},{"m":"Jan","yr":2007,"t":2.0},{"m":"Jan","yr":2008,"t":2.1},{"m":"Jan","yr":2009,"t":-3.5},{"m":"Jan","yr":2010,"t":-0.86},
{"m":"Jul","yr":1981,"t":26.95},{"m":"Jul","yr":1982,"t":27.8},{"m":"Jul","yr":1983,"t":28.8},{"m":"Jul","yr":1984,"t":26.34},{"m":"Jul","yr":1985,"t":26.7},{"m":"Jul","yr":1986,"t":26.1},{"m":"Jul","yr":1987,"t":27.97},{"m":"Jul","yr":1988,"t":29.1},{"m":"Jul","yr":1989,"t":27.2},{"m":"Jul","yr":1990,"t":26.8},{"m":"Jul","yr":1991,"t":27.97},{"m":"Jul","yr":1992,"t":24.15},{"m":"Jul","yr":1993,"t":27.97},{"m":"Jul","yr":1994,"t":28.05},{"m":"Jul","yr":1995,"t":28.05},{"m":"Jul","yr":1996,"t":25.6},{"m":"Jul","yr":1997,"t":26.46},{"m":"Jul","yr":1998,"t":26.46},{"m":"Jul","yr":1999,"t":29.0},{"m":"Jul","yr":2000,"t":24.76},{"m":"Jul","yr":2001,"t":25.85},{"m":"Jul","yr":2002,"t":28.3},{"m":"Jul","yr":2003,"t":26.6},{"m":"Jul","yr":2004,"t":25.5},{"m":"Jul","yr":2005,"t":28.4},{"m":"Jul","yr":2006,"t":28.05},{"m":"Jul","yr":2007,"t":26.1},{"m":"Jul","yr":2008,"t":27.2},{"m":"Jul","yr":2009,"t":24.6},{"m":"Jul","yr":2010,"t":28.65}
]
},
"columns": 2,
"bounds": "flush",
"spacing": {"row": 7, "column": 0},
"concat": [
{
"width": 494,
"height": 178,
"title": {"text": "Average maximum temperature in Jan and in Jul in each station", "anchor": "start", "frame": "group", "fontSize": 17.6, "fontWeight": "normal", "font": "Liberation Sans", "color": "black", "offset": 4.5},
"resolve": {"axis": {"y": "independent"}},
"layer": [
{
"data": {"name": "v"},
"transform": [{"filter": "datum.m === 'Jan'"}],
"mark": {"type": "area", "orient": "horizontal", "fill": "#9999ff", "fillOpacity": 1, "stroke": "black", "strokeWidth": 1},
"encoding": {
"y": {"field": "t", "type": "quantitative", "scale": {"domain": [-14.7, 11.6], "nice": false, "zero": false},
"axis": {"orient": "left", "values": [-10, -5, 0, 5, 10], "labelOverlap": false, "labelExpr": "'' + datum.value", "gridWidth": 1.07, "title": "Average maximum daily temperature (C)", "titleY": 181.5, "titlePadding": 5}},
"x": {"field": "lo", "type": "quantitative", "stack": null, "scale": {"domain": [1980.37, 2010.6], "nice": false, "zero": false},
"axis": {"values": [1981, 1986, 1991, 1996, 2001, 2006, 2010], "labels": false, "ticks": false, "title": null, "gridWidth": 1.07}},
"x2": {"field": "hi"},
"detail": {"field": "yr", "type": "nominal"}
}
},
{
"data": {"name": "p"},
"transform": [{"filter": "datum.m === 'Jan'"}],
"mark": {"type": "point", "filled": true, "color": "black", "opacity": 1, "size": 24},
"encoding": {
"x": {"field": "yr", "type": "quantitative"},
"y": {"field": "t", "type": "quantitative", "axis": {"orient": "left", "values": [-12.5, -7.5, -2.5, 2.5, 7.5], "labels": false, "ticks": false, "grid": true, "gridWidth": 0.53, "title": null}}
}
}
]
},
{
"width": 24,
"height": 178,
"view": {"fill": "#d9d9d9", "stroke": "#333333", "strokeWidth": 1.07},
"data": {"values": [{"m": "Jan"}]},
"mark": {"type": "text", "angle": 90, "fontSize": 11.7, "color": "#1a1a1a", "font": "Liberation Sans", "align": "center", "baseline": "middle"},
"encoding": {"text": {"field": "m", "type": "nominal"}}
},
{
"width": 494,
"height": 178,
"title": {"text": "Data from the NY NOAA", "orient": "bottom", "anchor": "end", "frame": "group", "fontSize": 11.7, "fontWeight": "normal", "font": "Liberation Sans", "color": "black", "offset": 10},
"layer": [
{
"data": {"name": "v"},
"transform": [{"filter": "datum.m === 'Jul'"}],
"mark": {"type": "area", "orient": "horizontal", "fill": "#9999ff", "fillOpacity": 1, "stroke": "black", "strokeWidth": 1},
"encoding": {
"y": {"field": "t", "type": "quantitative", "scale": {"domain": [12.96, 34.67], "nice": false, "zero": false},
"axis": {"values": [15, 17.5, 20, 22.5, 25, 27.5, 30, 32.5], "labelOverlap": false, "labelExpr": "datum.value % 5 === 0 ? '' + datum.value : ''", "tickOpacity": {"condition": {"test": "datum.value % 5 === 0", "value": 1}, "value": 0}, "gridWidth": {"condition": {"test": "datum.value % 5 === 0", "value": 1.07}, "value": 0.53}, "title": null}},
"x": {"field": "lo", "type": "quantitative", "stack": null, "scale": {"domain": [1980.37, 2010.6], "nice": false, "zero": false},
"axis": {"values": [1981, 1986, 1991, 1996, 2001, 2006, 2010], "format": "d", "title": "Year", "gridWidth": 1.07, "titlePadding": 10}},
"x2": {"field": "hi"},
"detail": {"field": "yr", "type": "nominal"}
}
},
{
"data": {"name": "p"},
"transform": [{"filter": "datum.m === 'Jul'"}],
"mark": {"type": "point", "filled": true, "color": "black", "opacity": 1, "size": 24},
"encoding": {
"x": {"field": "yr", "type": "quantitative"},
"y": {"field": "t", "type": "quantitative"}
}
}
]
},
{
"width": 24,
"height": 178,
"view": {"fill": "#d9d9d9", "stroke": "#333333", "strokeWidth": 1.07},
"data": {"values": [{"m": "Jul"}]},
"mark": {"type": "text", "angle": 90, "fontSize": 11.7, "color": "#1a1a1a", "font": "Liberation Sans", "align": "center", "baseline": "middle"},
"encoding": {"text": {"field": "m", "type": "nominal"}}
}
],
"config": {
"font": "Liberation Sans",
"view": {"stroke": "#333333", "strokeWidth": 1.07},
"axis": {"domain": false, "gridColor": "#ebebeb", "tickColor": "#333333", "tickSize": 3.7, "tickWidth": 1.07, "labelColor": "#4d4d4d", "labelFontSize": 11.7, "labelFont": "Liberation Sans", "labelPadding": 2.5, "titleFont": "Liberation Sans", "titleFontSize": 14.7, "titleFontWeight": "normal", "titleColor": "black"}
}
}
